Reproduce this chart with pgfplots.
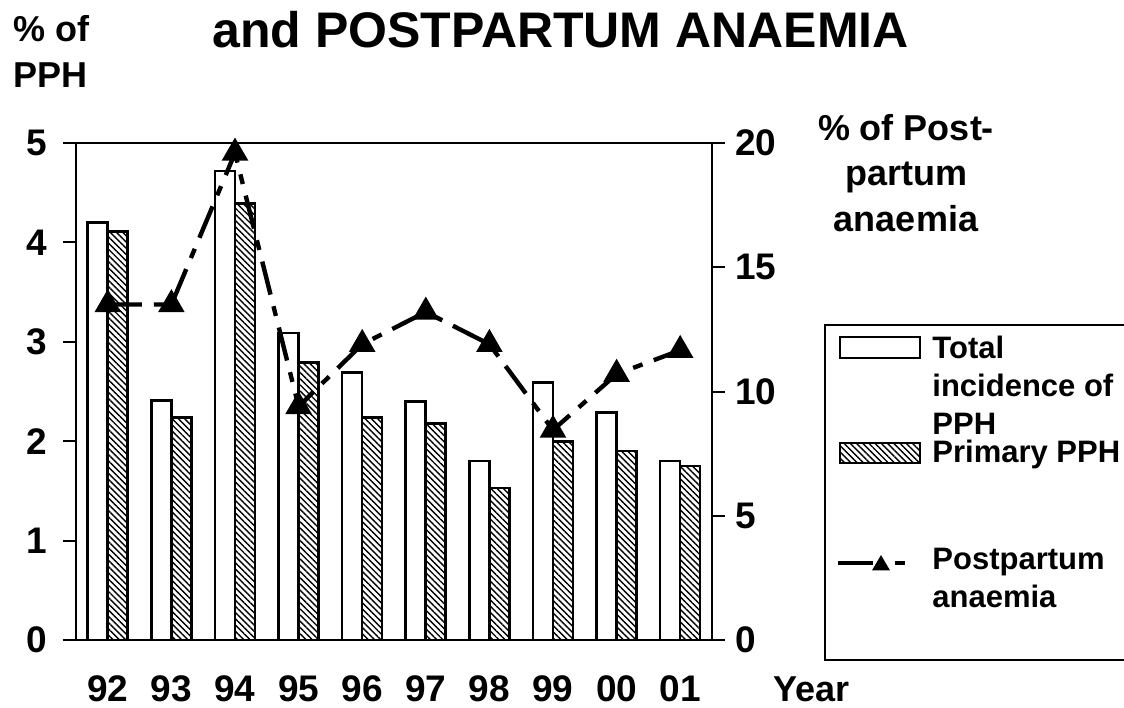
\documentclass[border=0pt]{standalone}
\usepackage{fontspec}
\setmainfont{Liberation Sans}
\usepackage{pgfplots}
\pgfplotsset{compat=1.18}
\usetikzlibrary{patterns.meta}

\newcommand{\lab}{\bfseries\fontsize{18}{21}\selectfont}
\newcommand{\tck}{\bfseries\fontsize{18.5}{21}\selectfont}
\newcommand{\leg}{\bfseries\fontsize{15.5}{19}\selectfont}

\pgfplotsset{
  pph/.style={
    scale only axis, width=318pt, height=248.5pt,
    xmin=-0.5, xmax=9.5, ymin=0,
    axis line style={line width=1pt},
    tick style={line width=1pt, black},
    major tick length=6.5pt, tick align=outside,
    /pgf/number format/assume math mode=true,
    ticklabel style={font=\tck},
  },
}
\tikzset{
  totalbar/.style={draw=black, line width=1.3pt, fill=white},
  primbar/.style={draw=black, line width=1.3pt, fill=white,
    pattern={Lines[angle=-45, distance=2.2pt, line width=0.7pt]}},
}

\begin{document}
\begin{tikzpicture}
\useasboundingbox (-38pt,-33.5pt) rectangle (524pt,320pt);

% left axis: PPH bars
\begin{axis}[pph, ymax=5, ytick={0,...,5}, ytick pos=left,
  xtick={0,...,9}, xticklabels={92,93,94,95,96,97,98,99,00,01},
  xtick style={draw=none},
  xticklabel style={anchor=base, inner sep=0pt, yshift=-24pt},
  yticklabel style={anchor=east, inner sep=0pt, xshift=-8pt},
  ybar=0pt, bar width=10pt,
]
\addplot[totalbar, bar shift=-5pt]
  coordinates {(0,4.20) (1,2.41) (2,4.72) (3,3.09) (4,2.69) (5,2.40) (6,1.80) (7,2.59) (8,2.29) (9,1.80)};
\addplot[primbar, bar shift=5pt]
  coordinates {(0,4.11) (1,2.24) (2,4.39) (3,2.79) (4,2.24) (5,2.18) (6,1.53) (7,2.00) (8,1.90) (9,1.75)};
\end{axis}

% right axis: postpartum anaemia
\begin{axis}[pph, ymax=20, ytick={0,5,...,20},
  axis x line=none, axis y line*=right,
  yticklabel style={anchor=west, inner sep=0pt, xshift=5pt},
]
\addplot[black, line width=2.2pt, dash pattern=on 17pt off 6pt on 5pt off 6pt,
  mark=triangle*, mark size=5.5pt, mark options={solid}]
  coordinates {(0,13.5) (1,13.5) (2,19.6) (3,9.4) (4,11.9) (5,13.2) (6,11.9) (7,8.45) (8,10.7) (9,11.66)};
\end{axis}

% titles and axis captions
\node[anchor=base west, inner sep=0pt, font=\bfseries\fontsize{25}{30}\selectfont] at (68pt,296pt) {and POSTPARTUM ANAEMIA};
\node[anchor=base west, inner sep=0pt, font=\lab] at (-31.5pt,299pt) {\% of};
\node[anchor=base west, inner sep=0pt, font=\lab] at (-31.5pt,276pt) {PPH};
\node[anchor=base, inner sep=0pt, font=\lab] at (415pt,249.6pt) {\% of Post-};
\node[anchor=base, inner sep=0pt, font=\lab] at (415pt,227.2pt) {partum};
\node[anchor=base, inner sep=0pt, font=\lab] at (415pt,204.2pt) {anaemia};
\node[anchor=base west, inner sep=0pt, font=\lab] at (348.5pt,-30.5pt) {Year};

% legend
\draw[line width=1pt] (374.5pt,157.5pt) rectangle (540pt,-10pt);
\draw[totalbar] (382pt,141pt) rectangle (422pt,151.5pt);
\draw[primbar] (382pt,88.5pt) rectangle (422pt,98.5pt);
\draw[line width=2.2pt] (381pt,38.5pt) -- (398.5pt,38.5pt);
\draw[line width=2.2pt] (409.5pt,38.5pt) -- (414.5pt,38.5pt);
\fill (398pt,34.8pt) -- (407pt,34.8pt) -- (402.5pt,42.5pt) -- cycle;
\begin{scope}[every node/.style={anchor=base west, inner sep=0pt, font=\leg}]
\node at (428pt,140.5pt) {Total};
\node at (428pt,121.5pt) {incidence of};
\node at (428pt,102.5pt) {PPH};
\node at (428pt,88.5pt) {Primary PPH};
\node at (428pt,35pt) {Postpartum};
\node at (428pt,16.5pt) {anaemia};
\end{scope}
\end{tikzpicture}
\end{document}
